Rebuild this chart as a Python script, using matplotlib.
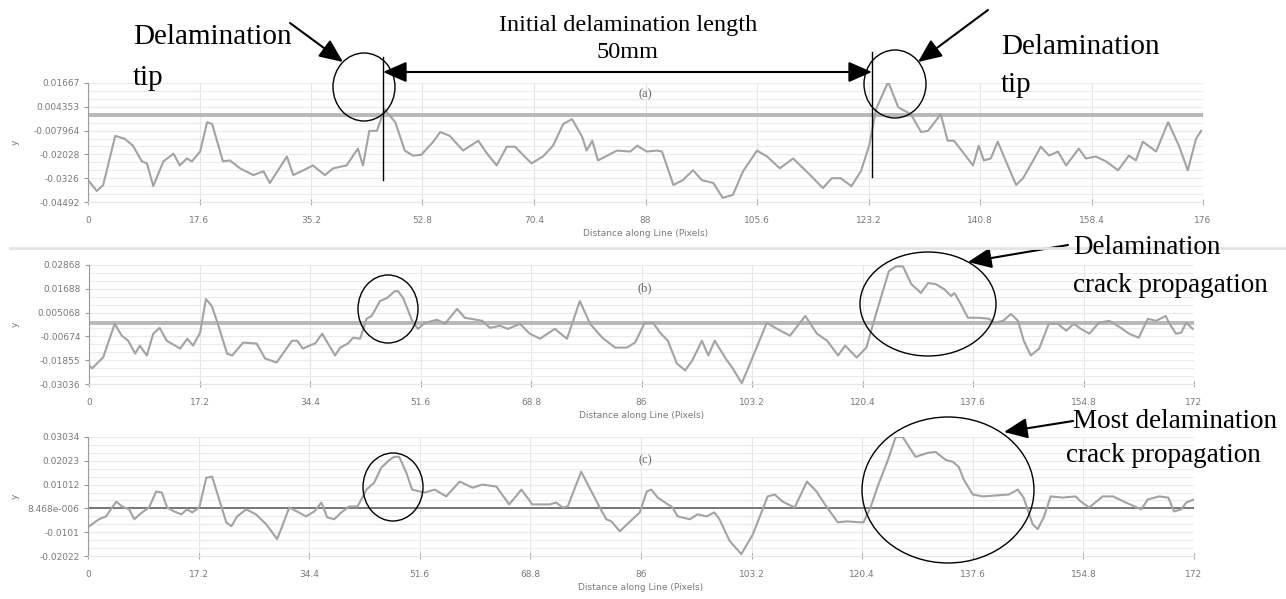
import numpy as np
import matplotlib.pyplot as plt
from matplotlib.patches import Ellipse, FancyArrowPatch

W, H = 1286, 599

# ---- panel (a) profile ----
xa = [0, 1.4, 2.4, 4.3, 5.8, 7.1, 8.5, 9.3, 10.3, 11.9, 13.5, 14.5, 15.6, 16.4,
      17.7, 18.8, 19.6, 21.3, 22.4, 24.0, 26.1, 27.7, 28.7, 31.4, 32.4, 34.0,
      35.5, 37.4, 38.7, 40.8, 42.6, 43.4, 44.4, 45.6, 46.8, 48.5, 50.0, 51.3,
      52.6, 54.5, 55.6, 57.1, 59.2, 61.6, 63.0, 64.5, 66.1, 67.4, 70.0, 71.8,
      73.4, 75.0, 76.4, 78.0, 78.7, 79.6, 80.5, 83.5, 85.6, 86.7, 88.2, 89.8,
      90.6, 92.4, 93.9, 95.5, 96.9, 98.7, 100.2, 101.8, 103.4, 105.6, 107.2,
      109.2, 111.3, 114.0, 116.0, 117.4, 118.8, 120.5, 122.0, 123.3, 124.4,
      126.3, 127.9, 129.9, 131.5, 132.6, 134.6, 135.7, 136.7, 139.7, 140.6,
      141.4, 142.5, 143.6, 144.9, 146.5, 147.6, 149.2, 150.4, 151.7, 153.1,
      154.4, 156.4, 157.5, 159.1, 160.7, 162.6, 164.3, 165.4, 166.5, 168.6,
      170.5, 172.2, 173.6, 174.9, 175.7]
ya = [-0.0336, -0.0392, -0.0361, -0.0107, -0.0122, -0.0158, -0.0239, -0.0249,
      -0.0367, -0.0239, -0.0199, -0.0260, -0.0224, -0.0239, -0.0188, -0.0036,
      -0.0046, -0.0239, -0.0234, -0.0275, -0.0310, -0.0290, -0.0351, -0.0214,
      -0.0310, -0.0285, -0.0260, -0.0310, -0.0275, -0.0260, -0.0173, -0.0260,
      -0.0081, -0.0081, 0.0030, -0.0036, -0.0183, -0.0209, -0.0205, -0.0137,
      -0.0087, -0.0107, -0.0183, -0.0132, -0.0199, -0.0260, -0.0163, -0.0163,
      -0.0249, -0.0214, -0.0158, -0.0046, -0.0020, -0.0112, -0.0183, -0.0132,
      -0.0234, -0.0183, -0.0188, -0.0158, -0.0188, -0.0183, -0.0188, -0.0361,
      -0.0336, -0.0285, -0.0336, -0.0351, -0.0428, -0.0412, -0.0290, -0.0183,
      -0.0214, -0.0275, -0.0224, -0.0310, -0.0377, -0.0326, -0.0326, -0.0367,
      -0.0290, -0.0158, 0.0031, 0.0173, 0.0041, 0.0005, -0.0087, -0.0081,
      0.0005, -0.0132, -0.0132, -0.0260, -0.0158, -0.0234, -0.0224, -0.0137,
      -0.0239, -0.0361, -0.0326, -0.0234, -0.0163, -0.0209, -0.0188, -0.0260,
      -0.0173, -0.0224, -0.0214, -0.0239, -0.0285, -0.0209, -0.0234, -0.0137,
      -0.0188, -0.0036, -0.0158, -0.0285, -0.0122, -0.0081]

# ---- panel (b) profile ----
xb = [0, 0.5, 1.7, 2.2, 4.0, 5.1, 6.1, 7.2, 7.9, 9.0, 10.0, 11.0, 12.1, 14.2,
      15.3, 16.2, 17.3, 18.2, 19.1, 19.9, 21.5, 22.3, 24.0, 26.1, 27.4, 29.2,
      31.6, 32.4, 33.3, 34.7, 35.2, 36.3, 38.3, 39.1, 40.3, 41.1, 42.2, 43.2,
      44.0, 45.3, 46.4, 47.6, 48.1, 48.9, 50.3, 51.2, 52.3, 54.2, 55.4, 57.3,
      58.5, 61.2, 62.4, 64.0, 65.2, 67.1, 68.6, 70.2, 72.5, 74.4, 76.4, 78.0,
      79.9, 81.9, 83.7, 85.0, 86.5, 87.8, 88.9, 90.1, 91.5, 92.8, 93.9, 95.4,
      96.4, 97.4, 99.3, 100.1, 101.6, 102.9, 105.5, 107.1, 109.1, 111.5, 113.3,
      114.9, 116.6, 117.7, 119.5, 121.0, 122.5, 124.5, 125.6, 126.7, 128.0,
      129.5, 130.6, 131.8, 133.1, 134.2, 134.7, 135.7, 136.8, 138.5, 140.1,
      140.9, 142.3, 143.5, 144.6, 145.5, 146.6, 147.9, 149.4, 150.8, 152.1,
      153.3, 154.4, 155.7, 157.2, 158.8, 160.6, 161.9, 163.4, 164.8, 166.1,
      167.6, 168.1, 169.2, 170.0, 170.8, 171.8]
yb = [-0.0212, -0.0226, -0.0187, -0.0172, -0.0005, -0.0064, -0.0089, -0.0153,
      -0.0113, -0.0162, -0.0054, -0.0025, -0.0089, -0.0128, -0.0079, -0.0113,
      -0.0049, 0.0118, 0.0084, 0.0010, -0.0153, -0.0162, -0.0098, -0.0103,
      -0.0177, -0.0197, -0.0089, -0.0089, -0.0128, -0.0108, -0.0103, -0.0054,
      -0.0162, -0.0123, -0.0103, -0.0074, -0.0079, 0.0020, 0.0034, 0.0108,
      0.0123, 0.0157, 0.0157, 0.0123, 0.0010, -0.0030, 0.0000, 0.0015, -0.0005,
      0.0069, 0.0025, 0.0010, -0.0025, -0.0015, -0.0030, -0.0005, -0.0054,
      -0.0079, -0.0030, -0.0079, 0.0108, -0.0005, -0.0074, -0.0123, -0.0123,
      -0.0098, 0.0000, 0.0000, -0.0049, -0.0089, -0.0202, -0.0236, -0.0187,
      -0.0089, -0.0162, -0.0089, -0.0187, -0.0221, -0.0300, -0.0202, 0.0000,
      -0.0030, -0.0064, 0.0034, -0.0054, -0.0089, -0.0162, -0.0113, -0.0172,
      -0.0123, 0.0044, 0.0256, 0.0280, 0.0280, 0.0192, 0.0148, 0.0197, 0.0192,
      0.0167, 0.0133, 0.0148, 0.0093, 0.0025, 0.0025, 0.0020, 0.0000, 0.0010,
      0.0044, 0.0010, -0.0089, -0.0162, -0.0128, -0.0005, -0.0005, -0.0039,
      -0.0005, -0.0030, -0.0054, 0.0000, 0.0010, -0.0025, -0.0054, -0.0074,
      0.0020, 0.0010, 0.0034, 0.0000, -0.0054, -0.0049, 0.0000, -0.0030]

# ---- panel (c) profile ----
xc = [0, 1.7, 2.8, 4.4, 5.3, 6.4, 7.2, 8.4, 9.5, 10.6, 11.5, 12.3, 13.4, 14.5,
      15.4, 16.2, 17.3, 18.4, 19.3, 20.4, 21.5, 22.3, 23.2, 24.6, 26.1, 27.7,
      29.4, 30.2, 31.3, 32.5, 33.9, 35.2, 36.3, 37.2, 38.3, 39.4, 40.6, 41.9,
      42.5, 43.3, 44.5, 45.6, 46.9, 47.6, 48.4, 49.5, 50.4, 52.3, 53.9, 55.7,
      57.8, 59.8, 61.3, 63.5, 65.5, 67.4, 69.1, 71.8, 72.8, 73.8, 74.6, 76.7,
      79.5, 80.6, 81.4, 82.7, 85.8, 86.9, 87.6, 88.6, 90.9, 91.7, 93.6, 94.8,
      96.2, 97.4, 98.2, 99.8, 101.6, 103.4, 105.7, 106.8, 108.0, 109.9, 111.8,
      113.3, 114.6, 116.6, 118.0, 120.0, 120.6, 121.7, 122.8, 124.4, 125.6,
      126.7, 128.7, 130.6, 131.8, 133.4, 134.5, 135.4, 136.2, 137.6, 139.2,
      141.2, 143.2, 144.6, 145.5, 146.9, 147.7, 148.7, 149.7, 151.6, 153.6,
      154.4, 155.7, 157.8, 159.4, 161.4, 163.8, 164.8, 166.6, 168.0, 168.9,
      170.0, 170.8, 172.0]
yc = [-0.0080, -0.0046, -0.0034, 0.0029, 0.0008, -0.0004, -0.0046, -0.0017,
      0.0004, 0.0072, 0.0067, 0.0004, -0.0013, -0.0025, -0.0004, -0.0017,
      0.0004, 0.0130, 0.0135, 0.0038, -0.0059, -0.0076, -0.0034, -0.0004,
      -0.0025, -0.0067, -0.0130, -0.0076, 0.0004, -0.0013, -0.0034, -0.0013,
      0.0025, -0.0038, -0.0046, -0.0017, 0.0008, 0.0008, 0.0038, 0.0080,
      0.0109, 0.0173, 0.0206, 0.0219, 0.0219, 0.0152, 0.0080, 0.0067, 0.0080,
      0.0051, 0.0114, 0.0088, 0.0101, 0.0093, 0.0017, 0.0080, 0.0017, 0.0017,
      0.0025, 0.0004, 0.0008, 0.0156, 0.0008, -0.0046, -0.0055, -0.0097,
      -0.0017, 0.0072, 0.0080, 0.0046, 0.0004, -0.0034, -0.0046, -0.0025,
      -0.0034, -0.0017, -0.0046, -0.0139, -0.0194, -0.0110, 0.0051, 0.0059,
      0.0029, 0.0004, 0.0114, 0.0072, 0.0017, -0.0059, -0.0055, -0.0059,
      -0.0059, 0.0004, 0.0093, 0.0206, 0.0303, 0.0303, 0.0219, 0.0236, 0.0240,
      0.0206, 0.0198, 0.0177, 0.0122, 0.0059, 0.0051, 0.0055, 0.0059, 0.0080,
      0.0046, -0.0067, -0.0088, -0.0034, 0.0051, 0.0046, 0.0051, 0.0029,
      0.0004, 0.0051, 0.0051, 0.0025, -0.0004, 0.0038, 0.0051, 0.0046,
      -0.0013, -0.0004, 0.0025, 0.0038]

yticks_a = ["0.01667", "0.004353", "-0.007964", "-0.02028", "-0.0326", "-0.04492"]
yticks_b = ["0.02868", "0.01688", "0.005068", "-0.00674", "-0.01855", "-0.03036"]
yticks_c = ["0.03034", "0.02023", "0.01012", "8.468e-006", "-0.0101", "-0.02022"]
xticks_a = ["0", "17.6", "35.2", "52.8", "70.4", "88", "105.6", "123.2", "140.8", "158.4", "176"]
xticks_bc = ["0", "17.2", "34.4", "51.6", "68.8", "86", "103.2", "120.4", "137.6", "154.8", "172"]

CURVE = "#a3a3a3"
TXT = "#7a7a7a"
SERIF = "Liberation Serif"


def fx(x):
    return x / W


def fy(y):
    return 1 - y / H


def make_panel(fig, box, xs, ys, xt, yt, letter, letter_y, zero_col, zero_lw):
    left, top, right, bottom = box
    ax = fig.add_axes([fx(left), fy(bottom), (right - left) / W, (bottom - top) / H])
    yv = [float(s) for s in yt]
    xv = [float(s) for s in xt]
    ax.set_xlim(xv[0], xv[-1])
    ax.set_ylim(yv[-1], yv[0])
    ax.set_yticks(yv)
    ax.set_yticklabels(yt)
    ax.set_xticks(xv)
    ax.set_xticklabels(xt)
    ax.set_yticks(np.linspace(yv[-1], yv[0], 16), minor=True)
    ax.grid(True, which="both", axis="y", color="#ebebeb", lw=0.8)
    ax.grid(True, which="major", axis="x", color="#e6e6e6", lw=0.8)
    ax.tick_params(axis="y", which="major", length=3, color="#999999",
                   labelsize=6.5, labelcolor=TXT, pad=3)
    ax.tick_params(axis="y", which="minor", length=0)
    ax.tick_params(axis="x", length=4, direction="inout", color="#aaaaaa",
                   labelsize=6.5, labelcolor=TXT, pad=8)
    for s in ["top", "right"]:
        ax.spines[s].set_visible(False)
    ax.spines["left"].set_color("#9a9a9a")
    ax.spines["bottom"].set_color("#e6e6e6")
    ax.set_axisbelow(True)
    ax.axhline(0, color=zero_col, lw=zero_lw, zorder=1)
    ax.plot(xs, ys, color=CURVE, lw=1.5, zorder=2)
    ax.set_xlabel("Distance along Line (Pixels)", fontsize=6.5, color=TXT, labelpad=3)
    ax.set_ylabel("y", fontsize=6.5, color=TXT, rotation=90)
    ax.yaxis.set_label_coords(-(left - 20) / (right - left), 0.5)
    fig.text(fx(645), fy(letter_y), letter, family=SERIF, fontsize=9,
             color="#666666", ha="center", va="center")
    return ax


def ellipse(fig, cx, cy, rx, ry):
    fig.add_artist(Ellipse((fx(cx), fy(cy)), 2 * rx / W, 2 * ry / H,
                           transform=fig.transFigure, fill=False,
                           ec="black", lw=1.0))


def arrow(fig, x0, y0, x1, y1, style="-|>"):
    fig.add_artist(FancyArrowPatch((fx(x0), fy(y0)), (fx(x1), fy(y1)),
                                   transform=fig.transFigure,
                                   arrowstyle=style + ",head_length=0.8,head_width=0.35",
                                   mutation_scale=18, color="black", lw=1.5,
                                   shrinkA=0, shrinkB=0))


fig = plt.figure(figsize=(W / 100, H / 100), dpi=100)
fig.patch.set_facecolor("white")

ax_a = make_panel(fig, (88, 83, 1203, 202), xa, ya, xticks_a, yticks_a, "(a)", 94,
                  "#b8b8b8", 2.8)
ax_b = make_panel(fig, (89, 265, 1194, 384), xb, yb, xticks_bc, yticks_b, "(b)", 288,
                  "#b8b8b8", 2.8)
ax_c = make_panel(fig, (88, 437, 1194, 556), xc, yc, xticks_bc, yticks_c, "(c)", 460,
                  "#777777", 1.4)

# light separator above panel (b)
fig.add_artist(plt.Line2D([fx(10), fx(1286)], [fy(248), fy(248)],
                          transform=fig.transFigure, color="#e3e3e3", lw=2))

# ---- panel (a) annotations ----
for xv, y0, y1 in [(383, 57, 180), (872, 52, 177)]:
    fig.add_artist(plt.Line2D([fx(xv), fx(xv)], [fy(y0), fy(y1)],
                              transform=fig.transFigure, color="black", lw=1.0))
arrow(fig, 383, 72, 872, 72, style="<|-|>")
fig.text(fx(628), fy(25), "Initial delamination length", family=SERIF,
         fontsize=17.5, ha="center", va="center")
fig.text(fx(628), fy(52), "50mm", family=SERIF, fontsize=17.5,
         ha="center", va="center")

fig.text(fx(133), fy(37), "Delamination", family=SERIF, fontsize=21, va="center")
fig.text(fx(133), fy(78), "tip", family=SERIF, fontsize=21, va="center")
arrow(fig, 290, 23, 343, 62)
ellipse(fig, 364, 87, 31, 34)

fig.text(fx(1001), fy(47), "Delamination", family=SERIF, fontsize=21, va="center")
fig.text(fx(1001), fy(85), "tip", family=SERIF, fontsize=21, va="center")
arrow(fig, 988, 10, 918, 62)
ellipse(fig, 895, 84, 31, 34)

# ---- panel (b) annotations ----
ellipse(fig, 388, 309, 30, 34)
ellipse(fig, 928, 304, 68, 52)
fig.text(fx(1073), fy(247), "Delamination", family=SERIF, fontsize=19.5, va="center")
fig.text(fx(1073), fy(285), "crack propagation", family=SERIF, fontsize=19.5, va="center")
arrow(fig, 1068, 245, 968, 262)

# ---- panel (c) annotations ----
ellipse(fig, 393, 487, 30, 34)
ellipse(fig, 948, 490, 86, 73)
fig.text(fx(1073), fy(421), "Most delamination", family=SERIF, fontsize=19.5, va="center")
fig.text(fx(1066), fy(455), "crack propagation", family=SERIF, fontsize=19.5, va="center")
arrow(fig, 1073, 421, 1004, 432)

fig.savefig("out.png", dpi=100)
